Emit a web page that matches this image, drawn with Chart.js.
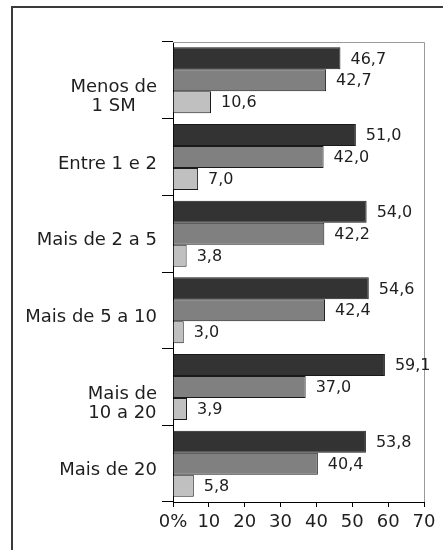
<!DOCTYPE html>
<html>
<head>
<meta charset="utf-8">
<script src="https://cdn.jsdelivr.net/npm/chart.js@4/dist/chart.umd.min.js"></script>
<style>
  html, body { margin: 0; padding: 0; background: #fff; overflow: hidden; }
  #wrap { position: relative; width: 443px; height: 550px; }
  #frame { position: absolute; left: 11px; top: 6px; width: 500px; height: 600px; border: 2px solid #3a3a3a; }
  #chart { position: absolute; left: 0; top: 0; }
</style>
</head>
<body>
<div id="wrap">
  <div id="frame"></div>
  <canvas id="chart" width="443" height="550"></canvas>
</div>
<script>
// categories (faixa de renda) and the three series
const categories = [['Menos de', '1 SM'], 'Entre 1 e 2', 'Mais de 2 a 5', 'Mais de 5 a 10', ['Mais de', '10 a 20'], 'Mais de 20'];
const serieA = [46.7, 51.0, 54.0, 54.6, 59.1, 53.8];
const serieB = [42.7, 42.0, 42.2, 42.4, 37.0, 40.4];
const serieC = [10.6, 7.0, 3.8, 3.0, 3.9, 5.8];
const xTicks = [0, 10, 20, 30, 40, 50, 60, 70];

const fmt = v => v.toFixed(1).replace('.', ',');

// gray top/right edge of the plot box
const boxLines = {
  id: 'boxLines',
  beforeDatasetsDraw(chart) {
    const { ctx, chartArea: a } = chart;
    ctx.save();
    ctx.strokeStyle = '#9a9a9a';
    ctx.lineWidth = 1;
    ctx.beginPath();
    ctx.moveTo(a.left, a.top + 0.5);
    ctx.lineTo(a.right + 0.5, a.top + 0.5);
    ctx.lineTo(a.right + 0.5, a.bottom);
    ctx.stroke();
    ctx.restore();
  }
};

// category labels: lines centred on each other, block right aligned
const catLabels = {
  id: 'catLabels',
  afterDraw(chart) {
    const { ctx, chartArea: a } = chart;
    const y = chart.scales.y;
    ctx.save();
    ctx.font = '18px "DejaVu Sans"';
    ctx.fillStyle = '#1e1e1e';
    ctx.textAlign = 'center';
    ctx.textBaseline = 'alphabetic';
    categories.forEach((lab, i) => {
      const lines = Array.isArray(lab) ? lab : [lab];
      const widest = Math.max(...lines.map(l => ctx.measureText(l).width));
      const cx = a.left - 16 - widest / 2;
      const cy = y.getPixelForValue(i);
      lines.forEach((l, k) => ctx.fillText(l, cx, cy + 11.5 + 19.5 * k));
    });
    ctx.restore();
  }
};

// value labels at the end of each bar
const valueLabels = {
  id: 'valueLabels',
  afterDatasetsDraw(chart) {
    const { ctx } = chart;
    ctx.save();
    ctx.font = '16px "DejaVu Sans"';
    ctx.fillStyle = '#1e1e1e';
    ctx.textAlign = 'left';
    ctx.textBaseline = 'middle';
    chart.data.datasets.forEach((ds, di) => {
      chart.getDatasetMeta(di).data.forEach((bar, i) => {
        ctx.fillText(fmt(ds.data[i]), bar.x + 10, bar.y + 1);
      });
    });
    ctx.restore();
  }
};

new Chart(document.getElementById('chart'), {
  type: 'bar',
  data: {
    labels: categories,
    datasets: [
      { data: serieA, backgroundColor: '#333333' },
      { data: serieB, backgroundColor: '#808080' },
      { data: serieC, backgroundColor: '#c0c0c0' }
    ]
  },
  options: {
    indexAxis: 'y',
    responsive: false,
    animation: false,
    events: [],
    layout: { padding: { top: 42, right: 19, left: 0, bottom: 0 } },
    datasets: {
      bar: { categoryPercentage: 0.86, barPercentage: 1, borderColor: '#1a1a1a', borderWidth: 1 }
    },
    plugins: { legend: { display: false }, tooltip: { enabled: false } },
    scales: {
      x: {
        min: 0, max: 70,
        afterBuildTicks: s => { s.ticks = xTicks.map(v => ({ value: v })); },
        afterFit: s => { s.height = 48; },
        border: { color: '#000', width: 1 },
        grid: { drawOnChartArea: false, drawTicks: true, tickLength: 5, color: '#000' },
        ticks: {
          padding: 5,
          color: '#1e1e1e',
          font: { family: 'DejaVu Sans', size: 18 },
          callback: v => v === 0 ? '0%' : String(v)
        }
      },
      y: {
        afterFit: s => { s.width = 173; },
        border: { color: '#000', width: 1 },
        grid: { drawOnChartArea: false, drawTicks: true, tickLength: 11, color: '#000', offset: true },
        ticks: { display: false }
      }
    }
  },
  plugins: [boxLines, catLabels, valueLabels]
});
</script>
</body>
</html>
